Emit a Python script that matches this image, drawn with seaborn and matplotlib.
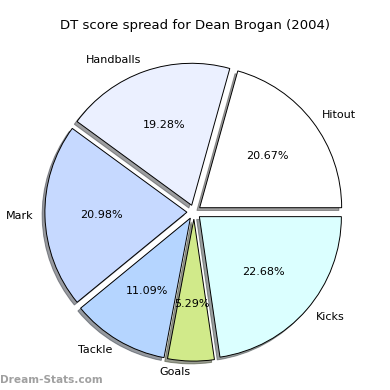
import matplotlib
matplotlib.use("Agg")
import matplotlib.pyplot as plt
import seaborn as sns

# ── data ──────────────────────────────────────────────────────────────────────
categories = ["Hitout", "Handballs", "Mark", "Tackle", "Goals", "Kicks"]
shares = [20.67, 19.28, 20.98, 11.09, 5.29, 22.68]
colors = ["#ffffff", "#ebf0ff", "#c6d9ff", "#b5d5ff", "#d1ea8a", "#dbffff"]

sns.set_style("white")
plt.rcParams["font.family"] = ["DejaVu Sans"]
plt.rcParams["text.color"] = "black"

fig = plt.figure(figsize=(3.9, 3.9), dpi=100)
ax = fig.add_axes([0, 0, 1, 1])

# pie centre at (194, 212) px from top-left, radius 142 px
r = 142.0
cx, cy = 194.0, 212.0
ax.pie(shares, labels=categories, colors=colors, explode=[0.05] * len(shares),
       autopct="%.2f%%", startangle=0, counterclock=True, labeldistance=1.08,
       shadow={"ox": -0.014, "oy": -0.014, "shade": 0.75},
       wedgeprops={"edgecolor": "black", "linewidth": 0.7},
       textprops={"fontsize": 8, "color": "black"})
ax.set_xlim(-cx / r, (390 - cx) / r)
ax.set_ylim(-(390 - cy) / r, cy / r)
ax.set_aspect("equal")
ax.axis("off")

fig.text(0.5, 1 - 25 / 390, "DT score spread for Dean Brogan (2004)",
         ha="center", va="center", fontsize=9.5)
fig.text(0.0, 1 - 380 / 390, "Dream-Stats.com", ha="left", va="center",
         fontsize=7.6, color="#a0a0a0", fontweight="bold")

fig.savefig("out.png", dpi=100)
